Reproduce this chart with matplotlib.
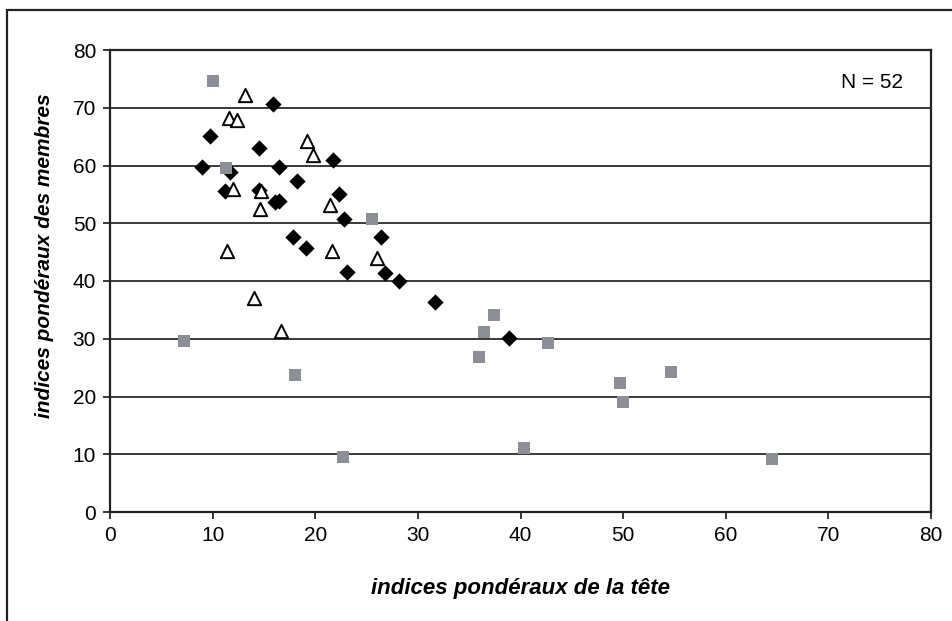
import matplotlib

matplotlib.use("Agg")
import matplotlib.pyplot as plt
from matplotlib.patches import Rectangle

# head weight index (x) vs limb weight index (y), three groups
diam_x = [15.9, 9.7, 14.5, 21.7, 9.0, 16.5, 11.7, 18.2, 11.2, 14.5, 16.1, 16.5,
          22.3, 22.8, 17.8, 19.1, 23.1, 26.4, 26.8, 28.2, 31.7, 38.9]
diam_y = [70.6, 65.1, 63.0, 60.9, 59.8, 59.8, 58.9, 57.4, 55.6, 55.8, 53.6, 53.9,
          55.0, 50.8, 47.7, 45.8, 41.5, 47.6, 41.4, 40.0, 36.3, 30.1]

tri_x = [13.2, 11.6, 12.4, 19.2, 19.8, 12.0, 14.7, 14.6, 21.4, 11.4, 21.6, 14.0, 26.0, 16.7]
tri_y = [72.2, 68.3, 67.8, 64.3, 61.9, 55.9, 55.5, 52.4, 53.1, 45.2, 45.2, 37.0, 44.0, 31.4]

sq_x = [10.0, 11.3, 25.5, 37.4, 36.4, 42.7, 36.0, 40.3, 22.7, 7.25, 18.0, 49.7, 54.7, 50.0, 64.5]
sq_y = [74.6, 59.6, 50.7, 34.1, 31.2, 29.2, 26.9, 11.1, 9.5, 29.6, 23.8, 22.4, 24.2, 19.0, 9.2]

x_ticks = [0, 10, 20, 30, 40, 50, 60, 70, 80]
y_ticks = [0, 10, 20, 30, 40, 50, 60, 70, 80]

plt.rcParams["font.family"] = ["Liberation Sans", "DejaVu Sans"]

fig = plt.figure(figsize=(9.53, 6.21), dpi=100)
ax = fig.add_axes([110 / 953, 1 - 512 / 621, 821 / 953, 462 / 621])

# outer frame of the chart area (runs off the right and bottom edges)
fig.patches.append(Rectangle((7 / 953, -0.2), 1.2, 1.2 - 10 / 621,
                             transform=fig.transFigure, fill=False,
                             edgecolor="#222222", linewidth=1.6))

ax.set_xlim(0, 80)
ax.set_ylim(0, 80)
for v in y_ticks[1:-1]:
    ax.axhline(v, color="#2a2a2a", linewidth=1.3, zorder=1)

ax.scatter(diam_x, diam_y, marker="D", s=8.3 ** 2, color="black", zorder=3, linewidths=0)
ax.scatter(tri_x, tri_y, marker="^", s=9.6 ** 2, facecolor="white", edgecolor="black",
           linewidths=1.4, zorder=4)
ax.scatter(sq_x, sq_y, marker="s", s=8.6 ** 2, color="#8e8e96", zorder=5, linewidths=0)

ax.set_xticks(x_ticks)
ax.set_yticks(y_ticks)
ax.set_xticklabels([str(t) for t in x_ticks], fontsize=15)
ax.set_yticklabels([str(t) for t in y_ticks], fontsize=15)
ax.tick_params(direction="out", length=5, width=1.3, color="#2a2a2a", pad=5)
for sp in ax.spines.values():
    sp.set_linewidth(1.6)
    sp.set_color("#222222")

ax.set_xlabel("indices pondéraux de la tête", fontsize=16, fontweight="bold", style="italic")
ax.xaxis.set_label_coords(0.5, -0.143)
ax.set_ylabel("indices pondéraux des membres", fontsize=15, fontweight="bold", style="italic")
ax.yaxis.set_label_coords(-0.068, 0.555)

ax.text(0.928, 0.929, "N = 52", transform=ax.transAxes, fontsize=15, ha="center", va="center")

fig.savefig("out.png", dpi=100)
